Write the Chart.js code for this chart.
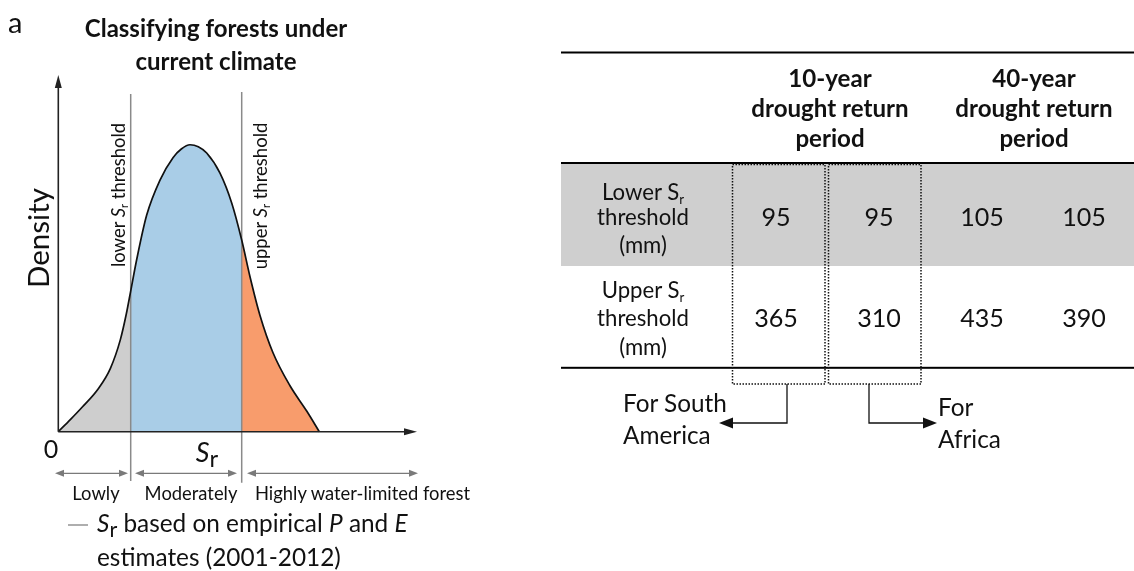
<!DOCTYPE html>
<html><head><meta charset="utf-8">
<script src="https://cdn.jsdelivr.net/npm/chart.js@4"></script>
<style>
html,body{margin:0;padding:0;background:#fff;}
#wrap{position:relative;width:1134px;height:571px;overflow:hidden;font-family:Lato,'Open Sans',sans-serif;color:#111;}
#c{position:absolute;left:0;top:0;}
#band{position:absolute;left:561px;top:164px;width:573px;height:102px;background:#cfcfcf;}
svg{position:absolute;left:0;top:0;}
.t{position:absolute;white-space:nowrap;line-height:1;}
.c{transform:translate(-50%,-50%);}
.l{transform:translate(0,-50%);}
.rot{transform:translate(-50%,-50%) rotate(-90deg);}
.b{font-weight:bold;}
.sub{font-size:60%;position:relative;top:0.3em;}
.sr{font-size:88%;position:relative;top:0.22em;font-style:normal;}
</style></head>
<body><div id="wrap">
<canvas id="c" width="480" height="571"></canvas>
<div id="band"></div>
<svg id="svg" width="1134" height="571"></svg>
</div>
<script>
// ---------- data ----------
const curveX = [0, 12, 24, 40, 52, 62, 68, 72.4, 78.4, 88.4, 101.7, 114.7, 123, 131.7, 140, 148.4, 161.7, 173.4, 183.4, 191.7, 201.7, 214.7, 231.7, 248.4, 261];
const curveY = [0, 0.042, 0.086, 0.15, 0.22, 0.32, 0.41, 0.49, 0.60, 0.755, 0.877, 0.955, 0.985, 1.0, 0.993, 0.971, 0.901, 0.797, 0.668, 0.54, 0.405, 0.275, 0.160, 0.072, 0];
const lowerThreshold = 72.4;
const upperThreshold = 183.4;
const zoneLabels = ['Lowly', 'Moderately', 'Highly water-limited forest'];
const periodLabels = [['10-year', 'drought return', 'period'], ['40-year', 'drought return', 'period']];
const rowLabels = [['Lower S<span class="sub">r</span>', 'threshold', '(mm)'], ['Upper S<span class="sub">r</span>', 'threshold', '(mm)']];
const lowerSr = [95, 95, 105, 105];
const upperSr = [365, 310, 435, 390];
const regionNotes = [['For South', 'America'], ['For', 'Africa']];

// ---------- chart ----------
const pts = curveX.map((x, i) => ({x: x, y: curveY[i]}));
const seg = (a, b) => pts.filter(p => p.x >= a && p.x <= b);
const fillDs = (data, color) => ({data: data, fill: 'origin', backgroundColor: color, borderWidth: 0, pointRadius: 0, cubicInterpolationMode: 'monotone', order: 3});

const axesPlugin = {
  id: 'axesArrows',
  afterDatasetsDraw(chart) {
    const ctx = chart.ctx, x = chart.scales.x, y = chart.scales.y;
    const x0 = x.getPixelForValue(0), y0 = y.getPixelForValue(0);
    const xEnd = x.getPixelForValue(x.max), yTop = y.getPixelForValue(y.max);
    ctx.save();
    ctx.strokeStyle = '#222'; ctx.fillStyle = '#222'; ctx.lineWidth = 1.6;
    ctx.beginPath(); ctx.moveTo(x0, y0); ctx.lineTo(x0, yTop + 8); ctx.stroke();
    ctx.beginPath(); ctx.moveTo(x0, yTop); ctx.lineTo(x0 - 3.5, yTop + 13); ctx.lineTo(x0 + 3.5, yTop + 13); ctx.closePath(); ctx.fill();
    ctx.beginPath(); ctx.moveTo(x0, y0); ctx.lineTo(xEnd - 8, y0); ctx.stroke();
    ctx.beginPath(); ctx.moveTo(xEnd, y0); ctx.lineTo(xEnd - 13, y0 - 3.5); ctx.lineTo(xEnd - 13, y0 + 3.5); ctx.closePath(); ctx.fill();
    // zone double arrows
    const ya = y.getPixelForValue(-0.145);
    const zones = [[x.min - 3.3, lowerThreshold - 2.7], [lowerThreshold + 4.3, upperThreshold - 4.7], [upperThreshold + 5.3, x.max + 1]];
    ctx.strokeStyle = '#7a7a7a'; ctx.fillStyle = '#7a7a7a'; ctx.lineWidth = 1.3;
    zones.forEach(z => {
      const a = x.getPixelForValue(z[0]), b = x.getPixelForValue(z[1]);
      ctx.beginPath(); ctx.moveTo(a + 5, ya); ctx.lineTo(b - 5, ya); ctx.stroke();
      ctx.beginPath(); ctx.moveTo(a, ya); ctx.lineTo(a + 9, ya - 3.5); ctx.lineTo(a + 9, ya + 3.5); ctx.closePath(); ctx.fill();
      ctx.beginPath(); ctx.moveTo(b, ya); ctx.lineTo(b - 9, ya - 3.5); ctx.lineTo(b - 9, ya + 3.5); ctx.closePath(); ctx.fill();
    });
    ctx.restore();
  }
};

new Chart(document.getElementById('c'), {
  type: 'line',
  data: {
    datasets: [
      {data: pts, borderColor: '#111', borderWidth: 1.7, fill: false, pointRadius: 0, cubicInterpolationMode: 'monotone', order: 0},
      {data: [{x: lowerThreshold, y: -0.172}, {x: lowerThreshold, y: 1.177}], borderColor: '#8a8a8a', borderWidth: 1.5, pointRadius: 0, fill: false, order: 1},
      {data: [{x: upperThreshold, y: -0.178}, {x: upperThreshold, y: 1.184}], borderColor: '#8a8a8a', borderWidth: 1.5, pointRadius: 0, fill: false, order: 1},
      fillDs(seg(-1, lowerThreshold), '#cecece'),
      fillDs(seg(lowerThreshold, upperThreshold), '#a9cde7'),
      fillDs(seg(upperThreshold, 1e9), '#f89c6c')
    ]
  },
  options: {
    responsive: false, animation: false, devicePixelRatio: 1,
    layout: {padding: {left: 58.3, right: 63, top: 75, bottom: 81.9}},
    scales: {
      x: {type: 'linear', min: 0, max: 358.7, display: false},
      y: {type: 'linear', min: -0.2, max: 1.243, display: false}
    },
    plugins: {legend: {display: false}, tooltip: {enabled: false}, title: {display: false}},
    elements: {line: {tension: 0}}
  },
  plugins: [axesPlugin]
});

// ---------- text helpers ----------
const wrap = document.getElementById('wrap');
function txt(html, x, y, cls, size, extra) {
  const d = document.createElement('div');
  d.className = 't ' + cls;
  d.innerHTML = html;
  d.style.left = x + 'px'; d.style.top = y + 'px';
  d.style.fontSize = size + 'px';
  if (extra) Object.assign(d.style, extra);
  wrap.appendChild(d);
  return d;
}
function fitGroup(ref, targetW, group) {
  const fs = parseFloat(ref.style.fontSize);
  const w = ref.offsetWidth;
  const nf = fs * targetW / w;
  group.forEach(e => e.style.fontSize = nf + 'px');
}

// ---------- left panel text ----------
txt('a', 8, 21, 'l', 29);
const t1 = txt('Classifying forests under', 216, 28, 'c b', 20);
const t2 = txt('current climate', 216, 61, 'c b', 20);
fitGroup(t1, 263, [t1, t2]);
const dens = txt('Density', 38, 238, 'rot', 26);
fitGroup(dens, 100, [dens]);
const lo = txt('lower <i>S</i><span class="sub">r</span> threshold', 118, 195, 'rot', 16);
fitGroup(lo, 144, [lo]);
const up = txt('upper <i>S</i><span class="sub">r</span> threshold', 260, 196, 'rot', 16);
fitGroup(up, 147, [up]);
txt('0', 51, 448, 'c', 25);
txt('<i>S</i><span class="sr">r</span>', 207, 452, 'c', 27);
const zx = [96, 191, 362.5];
const zEls = zoneLabels.map((s, i) => txt(s, zx[i], 493, 'c', 16));
fitGroup(zEls[2], 215, zEls);
const lg1 = txt('<i>S</i><span class="sr">r</span> based on empirical <i>P</i> and <i>E</i>', 97, 523, 'l', 21);
const lg2 = txt('estimates (2001-2012)', 97, 557, 'l', 21);
fitGroup(lg1, 311, [lg1, lg2]);

// ---------- table text ----------
const hx = [830, 1034], hy = [78, 108, 138];
const hEls = [];
periodLabels.forEach((lines, i) => lines.forEach((s, j) => hEls.push(txt(s, hx[i], hy[j], 'c b', 20))));
fitGroup(hEls[1], 158, hEls);
const ry = [[192, 217, 245], [290, 318, 347]];
const rEls = [];
rowLabels.forEach((lines, i) => lines.forEach((s, j) => rEls.push(txt(s, 643, ry[i][j], 'c', 20))));
fitGroup(rEls[1], 92, rEls);
const vx = [776, 879, 982, 1084];
const vEls = [];
lowerSr.forEach((v, i) => vEls.push(txt(String(v), vx[i], 217, 'c', 24)));
upperSr.forEach((v, i) => vEls.push(txt(String(v), vx[i], 318, 'c', 24)));
fitGroup(vEls[2], 44, vEls);
const nx = [623, 938], ny = [[403, 435], [407, 439]];
const nEls = [];
regionNotes.forEach((lines, i) => lines.forEach((s, j) => nEls.push(txt(s, nx[i], ny[i][j], 'l', 22))));
fitGroup(nEls[0], 104, nEls);

// ---------- table lines (svg) ----------
const svg = document.getElementById('svg');
svg.innerHTML = `
<rect x="561" y="51.5" width="573" height="2" fill="#000"/>
<rect x="561" y="162" width="573" height="2" fill="#000"/>
<rect x="561" y="366.8" width="573" height="2" fill="#000"/>
<rect x="732.5" y="164.5" width="92.5" height="219.5" fill="none" stroke="#111" stroke-width="1.5" stroke-dasharray="1.5 1.5"/>
<rect x="828.5" y="164.5" width="92.5" height="219.5" fill="none" stroke="#111" stroke-width="1.5" stroke-dasharray="1.5 1.5"/>
<polyline points="787,384 787,423 732,423" fill="none" stroke="#111" stroke-width="1.3"/>
<polygon points="719,423 733,417.5 733,428.5" fill="#111"/>
<polyline points="869,384 869,423 924,423" fill="none" stroke="#111" stroke-width="1.3"/>
<polygon points="937,423 923,417.5 923,428.5" fill="#111"/>
<line x1="68" y1="525" x2="88" y2="525" stroke="#9a9a9a" stroke-width="1.6"/>
`;
</script>
</body></html>
